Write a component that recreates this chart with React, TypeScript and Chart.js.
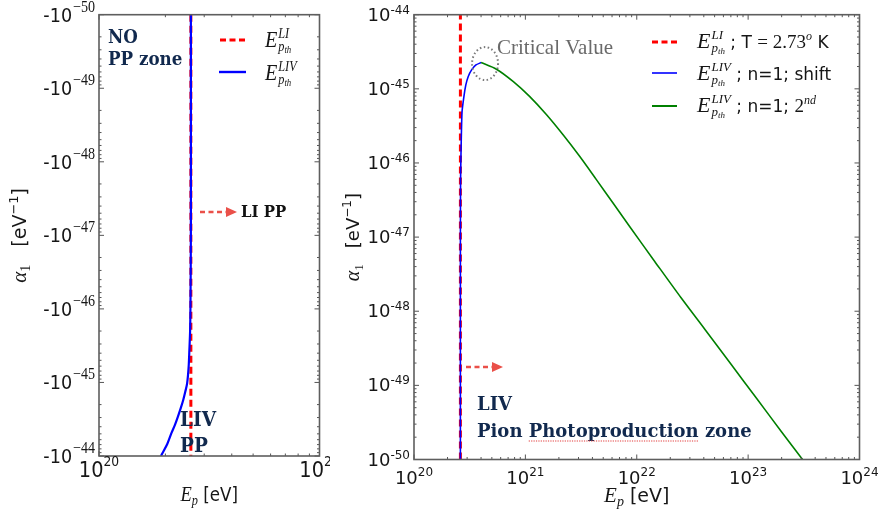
import React, { useEffect, useRef } from 'react';
import { Chart, registerables } from 'chart.js';

Chart.register(...registerables);

// Lorentz-invariant pion photoproduction threshold (eV), CMB at T = 2.73 K
const E_LI = 2.61e20;
const LI_ALPHA_SPAN = [1e-50, 1e-44];

// Left panel: alpha_1 < 0, LIV threshold
const LEFT_ALPHA = [
  -1e-50, -1e-47, -7.55e-47, -1.93e-46, -3.6e-46, -6.15e-46, -1.03e-45, -1.35e-45, -1.73e-45,
  -2.22e-45, -2.92e-45, -3.78e-45, -4.9e-45, -6.87e-45, -9.4e-45, -1e-44,
];
const LEFT_E_LIV = [
  2.61e20, 2.61e20, 2.6e20, 2.59e20, 2.57e20, 2.55e20, 2.51e20, 2.46e20, 2.41e20,
  2.35e20, 2.28e20, 2.21e20, 2.13e20, 2.04e20, 1.93e20, 1.91e20,
];

// Right panel: alpha_1 > 0, n = 1, shifted threshold branch
const SHIFT_E = [2.61e20, 2.61e20, 2.62e20, 2.65e20, 2.7e20, 2.81e20, 2.92e20, 3.07e20, 3.29e20, 3.6e20, 4.0e20];
const SHIFT_ALPHA = [1e-50, 1e-47, 6e-47, 1.7e-46, 4.9e-46, 8.0e-46, 1.13e-45, 1.47e-45, 1.8e-45, 2.1e-45, 2.26e-45];

// Right panel: alpha_1 > 0, n = 1, second threshold branch
const SECOND_E = [
  4.0e20, 5.5e20, 7.8e20, 1.09e21, 1.55e21, 2.18e21, 3.07e21, 4.34e21, 6.1e21, 8.6e21,
  1.45e22, 2.5e22, 4.13e22, 7.0e22, 1.18e23, 2.0e23, 3.08e23,
];
const SECOND_ALPHA = [
  2.26e-45, 1.84e-45, 1.25e-45, 7.9e-46, 4.47e-46, 2.4e-46, 1.23e-46, 5.96e-47, 2.9e-47, 1.4e-47,
  4.7e-48, 1.52e-48, 5.6e-49, 1.94e-49, 6.8e-50, 2.35e-50, 1.0e-50,
];

// Tick decades (exponents of ten)
const LEFT_X_DECADES = [20, 21];
const RIGHT_X_DECADES = [20, 21, 22, 23, 24];
const Y_DECADES = [-50, -49, -48, -47, -46, -45, -44];

const NAVY = '#11294e';
const ARROW_RED = '#ea5049';
const TEXT = '#161616';
const SANS = "'DejaVu Sans'";
const SERIF = "'Liberation Serif'";
const BOLD_SERIF = "'DejaVu Serif'";

type Run = { t: string; f: string; dy?: number; dx?: number; adv?: number; c?: string };

function runsWidth(ctx: CanvasRenderingContext2D, runs: Run[]) {
  let w = 0;
  for (const r of runs) {
    ctx.font = r.f;
    w += (r.dx ?? 0) + (r.adv ?? ctx.measureText(r.t).width);
  }
  return w;
}

function drawRuns(
  ctx: CanvasRenderingContext2D,
  x: number,
  y: number,
  runs: Run[],
  align: 'left' | 'right' | 'center' = 'left',
  color = TEXT,
  sx = 1,
) {
  ctx.save();
  ctx.translate(x, y);
  ctx.scale(sx, 1);
  const w = runsWidth(ctx, runs);
  let cx = align === 'left' ? 0 : align === 'right' ? -w : -w / 2;
  ctx.textAlign = 'left';
  ctx.textBaseline = 'alphabetic';
  for (const r of runs) {
    ctx.font = r.f;
    cx += r.dx ?? 0;
    ctx.fillStyle = r.c ?? color;
    if (r.t) ctx.fillText(r.t, cx, r.dy ?? 0);
    cx += r.adv ?? ctx.measureText(r.t).width;
  }
  ctx.restore();
  return w * sx;
}

// E with a superscript and the p_th subscript stacked under it
function eRuns(ctx: CanvasRenderingContext2D, sup: string, size: number): Run[] {
  const fE = `italic ${size}px ${SERIF}`;
  const fS = `italic ${Math.round(size * 0.6)}px ${SERIF}`;
  const fT = `italic ${Math.round(size * 0.42)}px ${SERIF}`;
  ctx.font = fS;
  const supW = ctx.measureText(sup).width;
  const pW = ctx.measureText('p').width;
  ctx.font = fT;
  const thW = ctx.measureText('th').width;
  return [
    { t: 'E', f: fE },
    { t: sup, f: fS, dy: -size * 0.4, dx: 1, adv: 0 },
    { t: 'p', f: fS, dy: size * 0.16 },
    { t: 'th', f: fT, dy: size * 0.28 },
    { t: '', f: fS, dx: Math.max(0, supW - pW - thW) },
  ];
}

function drawFrame(chart: Chart, xDec: number[], yDec: number[]) {
  const { ctx, chartArea: a } = chart;
  const xs = chart.scales.x;
  const ys = chart.scales.y;
  ctx.save();
  ctx.strokeStyle = '#555';
  ctx.lineWidth = 1;
  ctx.beginPath();
  const seg = (x0: number, y0: number, x1: number, y1: number) => {
    ctx.moveTo(x0, y0);
    ctx.lineTo(x1, y1);
  };
  xDec.forEach((e, i) => {
    const p = xs.getPixelForValue(Math.pow(10, e));
    seg(p, a.bottom, p, a.bottom - 5);
    seg(p, a.top, p, a.top + 5);
    if (i < xDec.length - 1) {
      for (let m = 2; m <= 9; m++) {
        const q = xs.getPixelForValue(m * Math.pow(10, e));
        seg(q, a.bottom, q, a.bottom - 2.5);
        seg(q, a.top, q, a.top + 2.5);
      }
    }
  });
  yDec.forEach((e, i) => {
    const p = ys.getPixelForValue(Math.pow(10, e));
    seg(a.left, p, a.left + 5, p);
    seg(a.right, p, a.right - 5, p);
    if (i < yDec.length - 1) {
      for (let m = 2; m <= 9; m++) {
        const q = ys.getPixelForValue(m * Math.pow(10, e));
        seg(a.left, q, a.left + 2.5, q);
        seg(a.right, q, a.right - 2.5, q);
      }
    }
  });
  ctx.stroke();
  ctx.strokeStyle = '#5e5e5e';
  ctx.lineWidth = 1.6;
  ctx.strokeRect(a.left, a.top, a.right - a.left, a.bottom - a.top);
  ctx.restore();
}

function dashedArrow(ctx: CanvasRenderingContext2D, x0: number, x1: number, y: number) {
  const head = 11;
  ctx.save();
  ctx.strokeStyle = ARROW_RED;
  ctx.fillStyle = ARROW_RED;
  ctx.lineWidth = 2.6;
  ctx.setLineDash([5, 3.5]);
  ctx.beginPath();
  ctx.moveTo(x0, y);
  ctx.lineTo(x1 - head, y);
  ctx.stroke();
  ctx.setLineDash([]);
  ctx.beginPath();
  ctx.moveTo(x1 - head, y - 5);
  ctx.lineTo(x1, y);
  ctx.lineTo(x1 - head, y + 5);
  ctx.closePath();
  ctx.fill();
  ctx.restore();
}

function legendLine(ctx: CanvasRenderingContext2D, x0: number, x1: number, y: number, color: string, width: number, dash: number[]) {
  ctx.save();
  ctx.strokeStyle = color;
  ctx.lineWidth = width;
  ctx.setLineDash(dash);
  ctx.beginPath();
  ctx.moveTo(x0, y);
  ctx.lineTo(x1, y);
  ctx.stroke();
  ctx.restore();
}

function rotatedTitle(ctx: CanvasRenderingContext2D, cx: number, cy: number, runs: Run[]) {
  ctx.save();
  ctx.translate(cx, cy);
  ctx.rotate(-Math.PI / 2);
  drawRuns(ctx, 0, 0, runs, 'center');
  ctx.restore();
}

function titleRuns(big: number, gap: number): Run[] {
  return [
    { t: 'α', f: `italic ${big + 2}px ${SERIF}` },
    { t: '1', f: `${big - 5}px ${SERIF}`, dy: 4 },
    { t: '', f: `${big}px ${SANS}`, dx: gap },
    { t: '[eV', f: `${big}px ${SANS}` },
    { t: '−1', f: `${big - 6}px ${SANS}`, dy: -8 },
    { t: ']', f: `${big}px ${SANS}` },
  ];
}

function xTitleRuns(): Run[] {
  return [
    { t: 'E', f: `italic 21px ${SERIF}` },
    { t: 'p', f: `italic 14px ${SERIF}`, dy: 4 },
    { t: ' [eV]', f: `19px ${SANS}` },
  ];
}

const leftDecor = {
  id: 'leftDecor',
  afterDraw(chart: Chart) {
    const { ctx, chartArea: a } = chart;
    const xs = chart.scales.x;
    const ys = chart.scales.y;
    drawFrame(chart, LEFT_X_DECADES, Y_DECADES);
    const sx = 0.88;

    // y tick labels: -10^-50 ... -10^-44
    Y_DECADES.forEach((e) => {
      const py = ys.getPixelForValue(Math.pow(10, e));
      drawRuns(ctx, 95, py + 7, [
        { t: '-10', f: `20px ${SANS}` },
        { t: '−' + String(-e), f: `16px ${SERIF}`, dy: -10, dx: 1 },
      ], 'right', TEXT, sx);
    });
    // x tick labels
    LEFT_X_DECADES.forEach((e) => {
      const px = xs.getPixelForValue(Math.pow(10, e));
      drawRuns(ctx, px, 477, [
        { t: '10', f: `22px ${SANS}` },
        { t: String(e), f: `14px ${SANS}`, dy: -11 },
      ], 'center', TEXT, sx);
    });

    rotatedTitle(ctx, 26, (a.top + a.bottom) / 2, titleRuns(19, 18));
    drawRuns(ctx, (a.left + a.right) / 2, 501, xTitleRuns(), 'center', TEXT, sx);

    // legend
    legendLine(ctx, 220, 245, 40, '#ff0000', 3, [6, 3.5]);
    legendLine(ctx, 219, 246, 72, '#0000ff', 2.4, []);
    drawRuns(ctx, 265, 47, eRuns(ctx, 'LI', 23), 'left', TEXT, sx);
    drawRuns(ctx, 265, 80, eRuns(ctx, 'LIV', 23), 'left', TEXT, sx);

    // zone labels
    const bold = `bold 19px ${BOLD_SERIF}`;
    drawRuns(ctx, 108, 43, [{ t: 'NO', f: bold }], 'left', NAVY, sx);
    drawRuns(ctx, 108, 65, [{ t: 'PP zone', f: bold }], 'left', NAVY, sx);
    dashedArrow(ctx, 200, 237, 212);
    drawRuns(ctx, 241, 217, [{ t: 'LI PP', f: `bold 17px ${BOLD_SERIF}` }], 'left', '#111', sx);
    drawRuns(ctx, 180, 426, [{ t: 'LIV', f: `bold 21px ${BOLD_SERIF}` }], 'left', NAVY, sx);
    drawRuns(ctx, 180, 452, [{ t: 'PP', f: `bold 21px ${BOLD_SERIF}` }], 'left', NAVY, sx);
  },
};

const rightDecor = {
  id: 'rightDecor',
  afterDraw(chart: Chart) {
    const { ctx, chartArea: a } = chart;
    const xs = chart.scales.x;
    const ys = chart.scales.y;
    drawFrame(chart, RIGHT_X_DECADES, Y_DECADES);

    Y_DECADES.forEach((e) => {
      const py = ys.getPixelForValue(Math.pow(10, e));
      drawRuns(ctx, a.left - 4, py + 6, [
        { t: '10', f: `18px ${SANS}` },
        { t: String(e), f: `12px ${SANS}`, dy: -7 },
      ], 'right');
    });
    RIGHT_X_DECADES.forEach((e) => {
      const px = xs.getPixelForValue(Math.pow(10, e));
      drawRuns(ctx, px, 484, [
        { t: '10', f: `18px ${SANS}` },
        { t: String(e), f: `12px ${SANS}`, dy: -8 },
      ], 'center');
    });

    rotatedTitle(ctx, 19, (a.top + a.bottom) / 2, titleRuns(18, 16));
    drawRuns(ctx, (a.left + a.right) / 2, 502, xTitleRuns(), 'center');

    // critical value marker
    ctx.save();
    ctx.strokeStyle = '#7a7a7a';
    ctx.lineWidth = 2;
    ctx.setLineDash([1.5, 2.5]);
    ctx.beginPath();
    ctx.ellipse(xs.getPixelForValue(SECOND_E[0]) + 4, ys.getPixelForValue(SECOND_ALPHA[0]) + 1, 13, 16.5, 0, 0, Math.PI * 2);
    ctx.stroke();
    ctx.restore();
    drawRuns(ctx, 157, 54, [{ t: 'Critical Value', f: `21px ${SERIF}` }], 'left', '#6a6a6a');

    // legend
    legendLine(ctx, 312, 337, 42, '#ff0000', 3, [6, 3.5]);
    legendLine(ctx, 312, 337, 73, '#0000ff', 1.6, []);
    legendLine(ctx, 312, 337, 106, '#008000', 2, []);
    const sans = `17px ${SANS}`;
    drawRuns(ctx, 357, 48, [
      ...eRuns(ctx, 'LI', 22),
      { t: ' ; T ', f: sans },
      { t: '= 2.73', f: `19px ${SERIF}` },
      { t: 'o', f: `italic 12px ${SERIF}`, dy: -8 },
      { t: ' K', f: sans },
    ]);
    drawRuns(ctx, 357, 80, [...eRuns(ctx, 'LIV', 22), { t: ' ; n=1; shift', f: sans }]);
    drawRuns(ctx, 357, 112, [
      ...eRuns(ctx, 'LIV', 22),
      { t: ' ; n=1; ', f: sans },
      { t: '2', f: `19px ${SERIF}` },
      { t: 'nd', f: `italic 12px ${SERIF}`, dy: -8 },
    ]);

    // photoproduction zone
    dashedArrow(ctx, 126, 163, 367);
    const bold = `bold 18px ${BOLD_SERIF}`;
    drawRuns(ctx, 137, 410, [{ t: 'LIV', f: bold }], 'left', NAVY);
    drawRuns(ctx, 137, 437, [{ t: 'Pion Photoproduction zone', f: bold }], 'left', NAVY);
    ctx.save();
    ctx.font = bold;
    const u0 = 137 + ctx.measureText('Pion ').width;
    const u1 = u0 + ctx.measureText('Photoproduction').width;
    ctx.strokeStyle = '#e23a3a';
    ctx.lineWidth = 1.2;
    ctx.setLineDash([1.2, 1.2]);
    ctx.beginPath();
    ctx.moveTo(u0, 441);
    ctx.lineTo(u1, 441);
    ctx.stroke();
    ctx.restore();
  },
};

function pts(xs: number[], ys: number[], magnitude = false) {
  return xs.map((x, i) => ({ x, y: magnitude ? Math.abs(ys[i]) : ys[i] }));
}

function liLine() {
  return {
    data: LI_ALPHA_SPAN.map((a) => ({ x: E_LI, y: a })),
    showLine: true,
    borderColor: '#ff0000',
    borderWidth: 3,
    borderDash: [7, 4],
    pointRadius: 0,
    order: 2,
  };
}

function makeChart(canvas: HTMLCanvasElement, datasets: any[], xMax: number, reverse: boolean, padding: any, plugin: any) {
  return new Chart(canvas, {
    type: 'scatter',
    data: { datasets },
    options: {
      animation: false,
      responsive: false,
      devicePixelRatio: 1,
      events: [],
      layout: { padding },
      plugins: { legend: { display: false }, tooltip: { enabled: false } },
      scales: {
        x: { type: 'logarithmic', min: 1e20, max: xMax, display: false },
        y: { type: 'logarithmic', min: 1e-50, max: 1e-44, reverse, display: false },
      },
    },
    plugins: [plugin],
  } as any);
}

export default function App() {
  const leftRef = useRef<HTMLCanvasElement>(null);
  const rightRef = useRef<HTMLCanvasElement>(null);

  useEffect(() => {
    const left = makeChart(
      leftRef.current!,
      [
        {
          data: pts(LEFT_E_LIV, LEFT_ALPHA, true),
          showLine: true,
          borderColor: '#0000ff',
          borderWidth: 2.2,
          pointRadius: 0,
          tension: 0.3,
          order: 1,
        },
        liLine(),
      ],
      1e21,
      true,
      { left: 99, right: 330 - 319.5, top: 14.7, bottom: 514 - 456 },
      leftDecor,
    );
    const right = makeChart(
      rightRef.current!,
      [
        {
          data: pts(SHIFT_E, SHIFT_ALPHA),
          showLine: true,
          borderColor: '#0000ff',
          borderWidth: 1.6,
          pointRadius: 0,
          tension: 0.2,
          order: 1,
        },
        {
          data: pts(SECOND_E, SECOND_ALPHA),
          showLine: true,
          borderColor: '#008000',
          borderWidth: 1.6,
          pointRadius: 0,
          tension: 0.3,
          order: 1,
        },
        liLine(),
      ],
      1e24,
      false,
      { left: 74, right: 544 - 519.5, top: 14.7, bottom: 514 - 459.5 },
      rightDecor,
    );
    return () => {
      left.destroy();
      right.destroy();
    };
  }, []);

  return (
    <div style={{ position: 'absolute', left: 0, top: 0, width: 884, height: 514, background: '#ffffff', overflow: 'hidden' }}>
      <canvas ref={leftRef} width={330} height={514} style={{ position: 'absolute', left: 0, top: 0 }} />
      <canvas ref={rightRef} width={544} height={514} style={{ position: 'absolute', left: 340, top: 0 }} />
    </div>
  );
}
